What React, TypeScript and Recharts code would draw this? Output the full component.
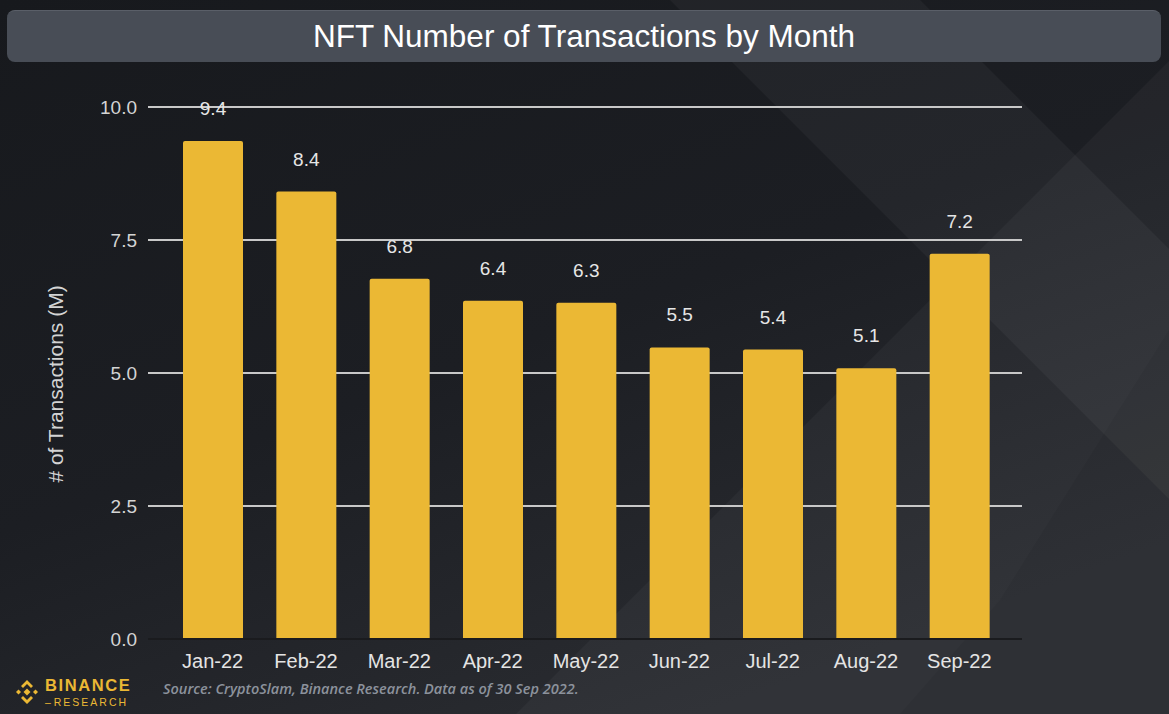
import React from 'react';
import { BarChart, Bar, XAxis, YAxis, CartesianGrid, LabelList, Label } from 'recharts';

const months = ['Jan-22', 'Feb-22', 'Mar-22', 'Apr-22', 'May-22', 'Jun-22', 'Jul-22', 'Aug-22', 'Sep-22'];
const transactions = [9.36, 8.41, 6.77, 6.36, 6.32, 5.48, 5.44, 5.09, 7.24];
const yTicks = [0, 2.5, 5, 7.5, 10];

const title = 'NFT Number of Transactions by Month';
const yAxisTitle = '# of Transactions (M)';
const sourceText = 'Source: CryptoSlam, Binance Research. Data as of 30 Sep 2022.';

const data = months.map((m, i) => ({ month: m, value: transactions[i] }));

const FONT = '"Liberation Sans", Arial, sans-serif';
const YELLOW = '#ebb834';

const YTitle = (props: any) => {
  const vb = props.viewBox || {};
  const cx = 55;
  const cy = (vb.y ?? 107) + (vb.height ?? 532) / 2 + 11;
  return (
    <text
      x={cx}
      y={cy}
      transform={`rotate(-90 ${cx} ${cy})`}
      textAnchor="middle"
      dominantBaseline="central"
      fill="#d4d4d4"
      fontSize={21}
      fontFamily={FONT}
    >
      {yAxisTitle}
    </text>
  );
};

const Background = () => (
  <svg width={1169} height={714} style={{ position: 'absolute', left: 0, top: 0 }}>
    <defs>
      <linearGradient id="bgGrad" x1="0" y1="0" x2="0.6" y2="1">
        <stop offset="0" stopColor="#17191d" />
        <stop offset="0.55" stopColor="#1c1e23" />
        <stop offset="1" stopColor="#2a2c31" />
      </linearGradient>
    </defs>
    <rect x={0} y={0} width={1169} height={714} fill="url(#bgGrad)" />
    <polygon points="1169,61 1169,714 516,714" fill="#ffffff" opacity={0.035} />
    <polygon points="670,0 920,0 1169,249 1169,499" fill="#ffffff" opacity={0.04} />
    <polygon points="1169,330 1169,714 900,714 1000,600" fill="#000000" opacity={0.05} />
  </svg>
);

const Logo = () => (
  <div style={{ position: 'absolute', left: 10, top: 676, width: 130, height: 38 }}>
    <svg width={30} height={30} style={{ position: 'absolute', left: 2, top: 1 }}>
      <g fill={YELLOW}>
        <polygon points="15,3 21,9 19,11 15,7 11,11 9,9" />
        <polygon points="15,27 9,21 11,19 15,23 19,19 21,21" />
        <polygon points="15,11.5 18.5,15 15,18.5 11.5,15" />
        <polygon points="4,15 6.5,12.5 9,15 6.5,17.5" />
        <polygon points="26,15 23.5,12.5 21,15 23.5,17.5" />
      </g>
    </svg>
    <div
      style={{
        position: 'absolute',
        left: 35,
        top: 0,
        fontFamily: FONT,
        fontWeight: 700,
        fontSize: 16.5,
        letterSpacing: 1.6,
        color: YELLOW,
        lineHeight: '19px',
        height: 19,
        whiteSpace: 'nowrap',
      }}
    >
      BINANCE
    </div>
    <div
      style={{
        position: 'absolute',
        left: 35,
        top: 20,
        fontFamily: FONT,
        fontWeight: 400,
        fontSize: 10.5,
        letterSpacing: 2,
        color: YELLOW,
        lineHeight: '12px',
        height: 12,
        whiteSpace: 'nowrap',
      }}
    >
      <span style={{ letterSpacing: 0 }}>– </span>RESEARCH
    </div>
  </div>
);

export default function App() {
  return (
    <div
      style={{
        position: 'fixed',
        left: 0,
        top: 0,
        width: 1169,
        height: 714,
        overflow: 'hidden',
        background: '#1b1d21',
      }}
    >
      <Background />
      <div
        style={{
          position: 'absolute',
          left: 7,
          top: 10,
          width: 1154,
          height: 52,
          borderRadius: 8,
          background: '#484d56',
          borderTop: '1px solid #5a5f68',
          boxSizing: 'border-box',
          display: 'flex',
          alignItems: 'center',
          justifyContent: 'center',
          color: '#ffffff',
          fontFamily: FONT,
          fontSize: 31.5,
        }}
      >
        {title}
      </div>
      <div style={{ position: 'absolute', left: 0, top: 0 }}>
        <BarChart
          width={1169}
          height={714}
          data={data}
          margin={{ top: 107, right: 147, bottom: 35, left: 0 }}
        >
          <CartesianGrid vertical={false} stroke="#c8c8c8" strokeWidth={2} />
          <XAxis
            dataKey="month"
            height={40}
            padding={{ left: 18, right: 16 }}
            tickLine={false}
            tickMargin={9}
            axisLine={{ stroke: '#1a1b1e', strokeWidth: 2 }}
            tick={{ fill: '#e4e4e4', fontSize: 20, fontFamily: FONT }}
            interval={0}
          />
          <YAxis
            width={148}
            domain={[0, 10]}
            ticks={yTicks}
            tickLine={false}
            axisLine={false}
            tickMargin={5}
            tickFormatter={(v: number) => v.toFixed(1)}
            tick={{ fill: '#d4d4d4', fontSize: 19, fontFamily: FONT }}
          >
            <Label content={<YTitle />} />
          </YAxis>
          <Bar dataKey="value" fill={YELLOW} barSize={60} radius={[2, 2, 0, 0]} isAnimationActive={false}>
            <LabelList
              dataKey="value"
              position="top"
              offset={26}
              formatter={(v: any) => Number(v).toFixed(1)}
              fill="#e6e6e6"
              fontSize={19}
              fontFamily={FONT}
            />
          </Bar>
        </BarChart>
      </div>
      <div
        style={{
          position: 'absolute',
          left: 163,
          top: 680,
          fontFamily: '"Open Sans", sans-serif',
          fontStyle: 'italic',
          fontWeight: 600,
          fontSize: 14.5,
          lineHeight: '18px',
          color: '#8c929c',
          whiteSpace: 'nowrap',
        }}
      >
        {sourceText}
      </div>
      <Logo />
    </div>
  );
}
